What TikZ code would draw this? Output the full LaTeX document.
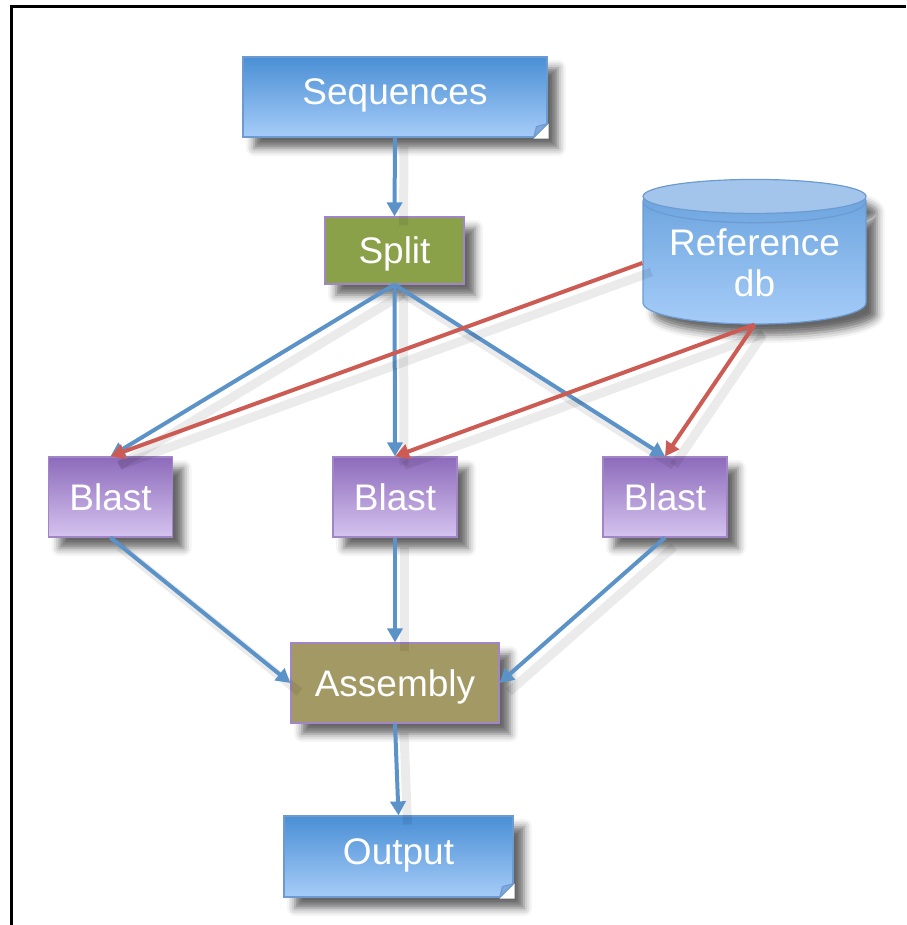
\documentclass[tikz,border=0pt]{standalone}
\usepackage{fontspec}
\setmainfont{Liberation Sans}
\usetikzlibrary{arrows.meta}
\usetikzlibrary{calc}
\usetikzlibrary{shadows.blur}
\usetikzlibrary{shapes.geometric}

\definecolor{filetop}{HTML}{4A8FD5}
\definecolor{filebot}{HTML}{A6CCF8}
\definecolor{fileline}{HTML}{6D9BD1}
\definecolor{foldblue}{HTML}{7FA9DA}
\definecolor{dbtop}{HTML}{A3C4EB}
\definecolor{splitgreen}{HTML}{8AA14A}
\definecolor{asmkhaki}{HTML}{A39965}
\definecolor{taskline}{HTML}{A086C6}
\definecolor{blasttop}{HTML}{8D6BBB}
\definecolor{blastbot}{HTML}{D5C3EF}
\definecolor{flowblue}{HTML}{5B93C8}
\definecolor{dbred}{HTML}{CC5B53}

\begin{document}
\begin{tikzpicture}[x=1pt,y=-1pt,
    box/.style={rectangle, inner sep=0pt, text=white, font=\fontsize{37}{41}\selectfont,
      text height=26pt, text depth=0pt,
      blur shadow={shadow xshift=11pt, shadow yshift=-11pt, shadow blur radius=8pt, shadow opacity=60}},
    file/.style={box, draw=fileline, line width=1.2pt, top color=filetop, bottom color=filebot, text depth=10pt},
    task/.style={box, draw=taskline, line width=1.2pt},
    blast/.style={task, top color=blasttop, bottom color=blastbot, minimum width=124pt, minimum height=80pt},
    flow/.style={draw=flowblue, line width=4pt, ->, >={Triangle[length=14pt,width=15pt]},
      preaction={-, draw=black, draw opacity=0.08, line width=9pt, transform canvas={shift={(9pt,-9pt)}}}},
    dbflow/.style={flow, draw=dbred}]

      \useasboundingbox (0,0) rectangle (906,925);
      \draw[line width=3pt] (11.5,925) -- (11.5,6.5) -- (906,6.5);

      \node[file, minimum width=304pt, minimum height=80pt] (seq) at (395,97) {Sequences};
      \node[task, fill=splitgreen, minimum width=139pt, minimum height=67pt] (split) at (394.5,250.5) {Split};
      \node[box, cylinder, shape border rotate=90, aspect=0.25, draw=fileline, line width=1.2pt,
        text height=, text depth=,
        top color=filetop!85!white, bottom color=filebot, align=center,
        minimum width=223pt, minimum height=144pt] (ref) at (754.5,263) {Reference\\db};
      \node[blast] (b1) at (110.5,497) {Blast};
      \node[blast] (b2) at (395,497) {Blast};
      \node[blast] (b3) at (665,497) {Blast};
      \node[task, fill=asmkhaki, minimum width=208pt, minimum height=80pt] (asm) at (395,683) {Assembly};
      \node[file, minimum width=229pt, minimum height=81pt] (out) at (398.5,856.5) {Output};

      % folded corners
      \foreach \f in {seq,out} {
        \fill[white] ($(\f.south east)+(-14,1)$) -- ($(\f.south east)+(1,1)$) -- ($(\f.south east)+(1,-14)$) -- cycle;
        \filldraw[fill=foldblue, draw=fileline, line width=1.2pt, line join=round]
          ($(\f.south east)+(-14,0)$) -- ($(\f.south east)+(0,-14)$) -- ($(\f.south east)+(-11,-11)$) -- cycle;
      }

      \filldraw[fill=dbtop, draw=fileline, line width=1.2pt] ($(ref.north)+(0,17)$) ellipse [x radius=111.5, y radius=17];

      \draw[flow] (seq.south) -- (split.north);
      \foreach \b in {b1,b2,b3}
        \draw[flow] (split.south) -- (\b.north);
      \draw[dbflow] (ref.west) -- (b1.north);
      \draw[dbflow] (ref.south) -- (b2.north);
      \draw[dbflow] (ref.south) -- (b3.north);
      \draw[flow] (b1.south) -- (asm.west);
      \draw[flow] (b2.south) -- (asm.north);
      \draw[flow] (b3.south) -- (asm.east);
      \draw[flow] (asm.south) -- (out.north);
    \end{tikzpicture}
\end{document}
